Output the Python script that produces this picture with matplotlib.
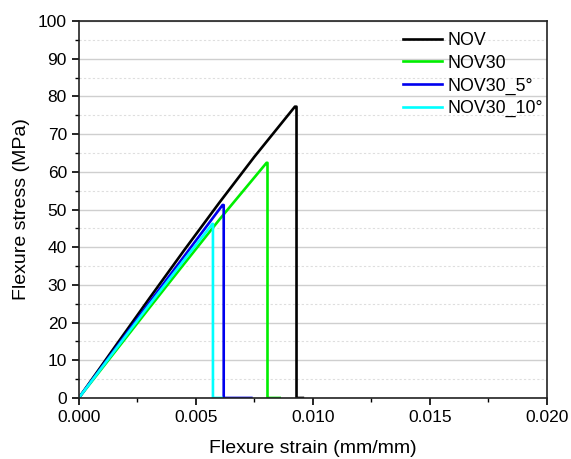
import matplotlib
matplotlib.use("Agg")
import matplotlib.pyplot as plt
from matplotlib.ticker import MultipleLocator, FormatStrFormatter

plt.rcParams['font.family'] = ['Liberation Sans', 'DejaVu Sans']

# strain (mm/mm) and stress (MPa)
nov_strain = [0.0, 0.0015, 0.003, 0.0045, 0.006, 0.0075, 0.00923, 0.0093, 0.0093, 0.00957]
nov_stress = [0.0, 13.2, 26.3, 39.2, 51.8, 64.0, 77.3, 77.3, 0.0, 0.0]

nov30_strain = [0.0, 0.0015, 0.003, 0.0045, 0.006, 0.00802, 0.00806, 0.00806, 0.00858]
nov30_stress = [0.0, 11.9, 23.8, 35.6, 47.3, 62.4, 62.4, 0.0, 0.0]

nov30_5_strain = [0.0, 0.0015, 0.003, 0.0045, 0.00614, 0.00619, 0.00619, 0.00737]
nov30_5_stress = [0.0, 12.6, 25.2, 37.6, 51.2, 51.2, 0.0, 0.0]

nov30_10_strain = [0.0, 0.0015, 0.003, 0.0045, 0.00571, 0.00573, 0.00573, 0.0061]
nov30_10_stress = [0.0, 12.3, 24.6, 36.6, 46.2, 46.2, 0.0, 0.0]

series = [
    ("NOV", nov_strain, nov_stress, "black"),
    ("NOV30", nov30_strain, nov30_stress, "#00ee00"),
    ("NOV30_5°", nov30_5_strain, nov30_5_stress, "#0000ee"),
    ("NOV30_10°", nov30_10_strain, nov30_10_stress, "cyan"),
]

fig = plt.figure(figsize=(5.71, 4.59), dpi=100)
ax = fig.add_axes([0.138, 0.133, 0.82, 0.821])

for name, x, y, c in series:
    ax.plot(x, y, color=c, lw=1.9, label=name)

ax.set_xlim(0, 0.02)
ax.set_ylim(0, 100)
ax.xaxis.set_major_locator(MultipleLocator(0.005))
ax.xaxis.set_minor_locator(MultipleLocator(0.0025))
ax.xaxis.set_major_formatter(FormatStrFormatter('%.3f'))
ax.yaxis.set_major_locator(MultipleLocator(10))
ax.yaxis.set_minor_locator(MultipleLocator(5))

ax.grid(which='major', axis='y', color='#cfcfcf', lw=1.0, ls='-')
ax.grid(which='minor', axis='y', color='#dedede', lw=0.8, ls=(0, (2, 2)))
ax.set_axisbelow(True)

ax.tick_params(which='major', direction='out', length=5, width=1.2, labelsize=12.5, colors='black')
ax.tick_params(which='minor', direction='out', length=3, width=1.0)
for s in ax.spines.values():
    s.set_linewidth(1.2)
    s.set_color('#222222')

ax.set_xlabel("Flexure strain (mm/mm)", fontsize=14, labelpad=11)
ax.set_ylabel("Flexure stress (MPa)", fontsize=14, labelpad=6)

ax.legend(loc='upper right', frameon=False, fontsize=12.8, handlelength=2.2,
          handletextpad=0.3, labelspacing=0.32, borderaxespad=0.0,
          bbox_to_anchor=(1.0065, 0.99))

plt.savefig('out.png', dpi=100)
